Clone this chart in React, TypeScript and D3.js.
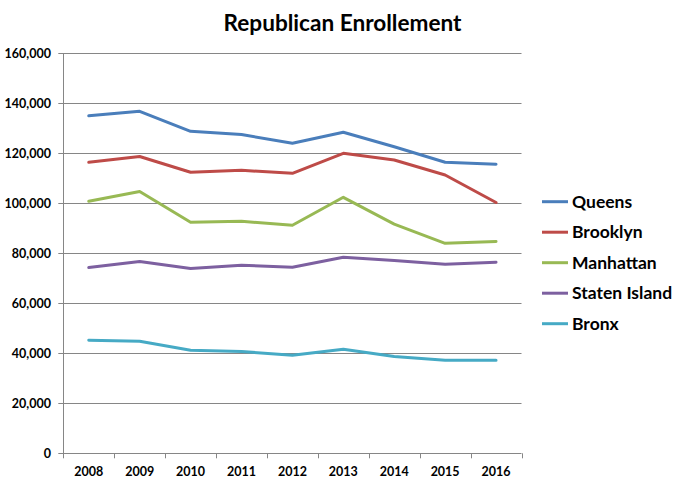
import React from "react";
import * as d3 from "d3";

const years = ["2008", "2009", "2010", "2011", "2012", "2013", "2014", "2015", "2016"];
const queens = [135000, 136800, 128800, 127500, 124000, 128400, 122600, 116400, 115600];
const brooklyn = [116400, 118700, 112400, 113200, 112000, 120000, 117300, 111300, 100300];
const manhattan = [100800, 104700, 92400, 92800, 91200, 102400, 91700, 84000, 84700];
const statenIsland = [74300, 76700, 73900, 75200, 74400, 78400, 77100, 75600, 76400];
const bronx = [45200, 44800, 41200, 40700, 39200, 41600, 38700, 37200, 37200];
const yTicks = [0, 20000, 40000, 60000, 80000, 100000, 120000, 140000, 160000];

const seriesNames = ["Queens", "Brooklyn", "Manhattan", "Staten Island", "Bronx"];
const seriesValues = [queens, brooklyn, manhattan, statenIsland, bronx];
const colors = ["#4A7EBB", "#BE4B48", "#98B954", "#7D60A0", "#46AAC5"];

export default function App() {
  const W = 682, H = 485;
  const left = 63.3, right = 521.5, top = 53.3, bottom = 453.3;
  const x = d3.scaleBand<string>().domain(years).range([left, right]);
  const y = d3.scaleLinear().domain([0, 160000]).range([bottom, top]);
  const line = d3
    .line<number>()
    .x((_, i) => (x(years[i]) as number) + x.bandwidth() / 2)
    .y((d) => y(d));
  const fmt = d3.format(",");
  const font = "Lato, 'Noto Sans', sans-serif";
  const axisColor = "#868686";
  return (
    <svg width={W} height={H} style={{ position: "absolute", left: 0, top: 0, background: "#fff" }} fontFamily={font}>
      <text x={342.5} y={31} textAnchor="middle" fontSize={22.5} fontWeight="bold" fill="#000" textLength={238} lengthAdjust="spacingAndGlyphs">
        Republican Enrollement
      </text>
      {yTicks.map((t) => (
        <g key={t}>
          <line x1={left - 5} x2={right} y1={Math.round(y(t)) + 0.5} y2={Math.round(y(t)) + 0.5} stroke={axisColor} strokeWidth={1} />
          <text x={51} y={y(t) + 4.5} textAnchor="end" fontSize={12.5} fontWeight="bold" fill="#000">
            {fmt(t)}
          </text>
        </g>
      ))}
      <line x1={Math.round(left) + 0.5} x2={Math.round(left) + 0.5} y1={top} y2={bottom} stroke={axisColor} />
      {years.map((yr) => (
        <g key={yr}>
          <line
            x1={Math.round(x(yr) as number) + 0.5}
            x2={Math.round(x(yr) as number) + 0.5}
            y1={bottom}
            y2={bottom + 5}
            stroke={axisColor}
          />
          <text x={(x(yr) as number) + x.bandwidth() / 2} y={476} textAnchor="middle" fontSize={12.5} fontWeight="bold" fill="#000">
            {yr}
          </text>
        </g>
      ))}
      <line x1={Math.round(right) + 0.5} x2={Math.round(right) + 0.5} y1={bottom} y2={bottom + 5} stroke={axisColor} />
      {seriesValues.map((vals, i) => (
        <path key={seriesNames[i]} d={line(vals) as string} fill="none" stroke={colors[i]} strokeWidth={3} strokeLinejoin="round" strokeLinecap="round" />
      ))}
      {seriesNames.map((n, i) => {
        const ly = 201.7 + i * 30.5;
        return (
          <g key={n}>
            <line x1={542} x2={568} y1={ly} y2={ly} stroke={colors[i]} strokeWidth={3} />
            <text x={572} y={ly + 6} fontSize={17.5} fontWeight="bold" fill="#000">
              {n}
            </text>
          </g>
        );
      })}
    </svg>
  );
}
